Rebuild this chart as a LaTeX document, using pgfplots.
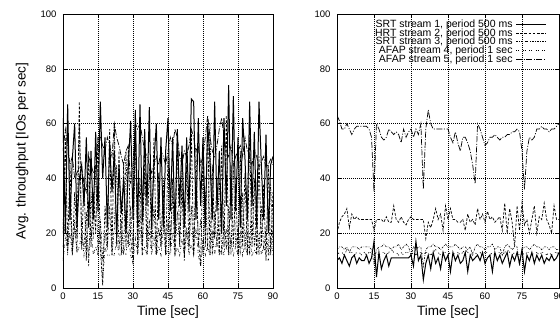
\documentclass[border=0pt]{standalone}
\usepackage{fontspec}
\setmainfont{Liberation Sans}
\usepackage{pgfplots}
\usepackage{pgfplotstable}
\pgfplotsset{compat=1.18}

\pgfplotstableread{
x s1 s2 s3 s4 s5
0 62 20 15 10 50
1 20 55 25 18 58
2 67 15 12 14 52
3 25 45 30 20 45
4 47 12 14 12 48
5 60 35 22 25 40
6 22 18 13 13 42
7 40 68 60 15 44
8 45 14 20 20 44
9 30 40 15 12 38
10 55 10 28 18 35
11 22 50 8 12 48
12 50 15 35 22 45
13 25 35 18 12 42
14 57 20 45 15 44
15 28 55 12 12 55
16 68 15 25 20 55
17 40 1 10 2 52
18 55 30 20 15 50
19 22 15 14 12 55
20 53 58 30 12 52
21 35 12 12 12 48
22 50 60 22 12 60
23 18 15 45 18 55
24 45 50 14 12 52
25 27 12 25 12 48
26 40 45 12 15 45
27 20 15 50 12 50
28 45 52 15 20 52
29 61 18 30 12 38
30 25 10 14 9 45
31 65 60 55 18 60
32 22 15 12 12 58
33 67 40 28 22 60
34 24 12 16 12 55
35 58 50 42 15 50
36 30 15 12 12 48
37 66 45 25 20 45
38 22 18 14 12 42
39 46 55 30 18 45
40 60 12 12 12 48
41 25 42 22 15 45
42 55 15 15 12 50
43 22 35 40 22 48
44 50 12 12 12 45
45 62 48 25 14 50
46 28 15 14 12 55
47 55 40 35 20 52
48 20 12 12 12 58
49 58 55 28 15 55
50 30 15 16 12 48
51 52 38 45 18 45
52 22 10 12 12 50
53 55 45 22 20 48
54 28 15 14 12 52
55 69 58 30 16 58
56 68 12 12 12 55
57 25 40 50 22 50
58 62 18 15 12 52
59 30 8 25 8 45
60 55 50 12 18 48
61 22 15 35 12 55
62 60 62 14 15 63
63 47 12 60 12 55
64 25 45 12 20 50
65 68 18 28 12 48
66 28 40 15 18 52
67 50 12 40 12 58
68 20 52 12 15 62
69 62 15 25 12 55
70 30 63 14 22 50
71 74 12 30 12 48
72 25 45 12 18 52
73 70 15 45 12 45
74 28 38 15 15 48
75 55 12 22 12 50
76 22 50 12 20 52
77 62 15 35 12 48
78 47 42 14 16 55
79 25 12 28 12 50
80 68 55 12 18 48
81 30 15 40 12 45
82 57 40 15 14 50
83 22 12 25 12 48
84 68 48 12 20 44
85 45 15 30 12 46
86 25 38 14 15 48
87 56 10 22 12 44
88 20 45 12 10 45
89 45 12 38 18 47
90 48 35 15 12 45
}\lefttable

\pgfplotstableread{
x s1 s2 s3 s4 s5
0 10 20 14 12 63
1 11 24 15 13 61
2 9 26 15 13 58
3 12 27 14 12 58
4 10 29 15 14 60
5 8 22 13 13 58
6 11 27 15 13 56
7 12 25 15 12 58
8 9 26 15 13 59
9 11 25 14 13 59
10 10 25 15 12 59
11 10 25 15 13 59
12 12 25 15 12 59
13 9 25 15 13 58
14 11 25 14 13 55
15 17 21 9 12 35
16 4 25 14 13 60
17 13 25 15 12 58
18 7 25 15 13 55
19 10 24 16 13 54
20 12 26 15 12 55
21 8 24 15 13 58
22 11 24 14 14 57
23 11 30 15 13 56
24 11 25 15 13 57
25 11 24 16 12 56
26 11 26 14 13 53
27 11 24 15 12 58
28 11 23 16 13 55
29 11 25 15 13 57
30 12 26 12 12 58
31 8 25 15 13 55
32 17 25 14 12 58
33 10 25 15 13 56
34 12 25 15 13 60
35 3 25 8 12 36
36 9 18 14 13 58
37 12 24 15 13 65
38 7 22 15 12 60
39 13 25 16 13 58
40 9 29 15 14 58
41 11 25 15 13 58
42 7 27 14 12 58
43 13 21 15 13 58
44 10 30 16 13 58
45 12 25 15 12 58
46 6 29 15 13 55
47 13 25 15 12 53
48 10 25 16 13 57
49 12 24 15 13 53
50 9 24 14 12 50
51 10 25 15 13 55
52 13 21 15 14 55
53 6 27 14 13 53
54 12 24 15 12 50
55 10 25 12 13 45
56 11 23 15 13 38
57 12 29 16 12 60
58 10 25 15 13 58
59 13 27 15 12 55
60 9 24 14 13 52
61 11 28 15 13 53
62 12 25 15 12 55
63 6 26 16 13 55
64 13 24 14 12 56
65 10 25 15 13 55
66 12 26 15 13 54
67 9 21 12 12 55
68 11 31 15 13 55
69 13 20 16 14 56
70 8 29 15 13 56
71 12 24 14 12 57
72 10 15 15 13 57
73 13 30 15 13 58
74 9 21 8 12 57
75 14 31 14 13 50
76 6 23 15 12 36
77 12 25 15 13 50
78 10 20 14 13 55
79 13 25 15 12 54
80 9 30 16 13 55
81 12 20 15 13 58
82 10 26 15 12 58
83 12 25 14 13 59
84 9 31 15 13 58
85 11 25 15 12 58
86 10 23 14 13 57
87 12 20 15 12 58
88 10 30 15 13 58
89 11 25 14 13 59
90 13 25 14 12 60
}\righttable

\pgfplotsset{
  gpbase/.style={
    scale only axis,
    anchor=south west,
    height=274pt,
    xmin=0, xmax=90, ymin=0, ymax=100,
    xtick={0,15,...,90}, ytick={0,20,...,100},
    tick align=inside,
    major tick length=4pt,
    tick style={black, line width=0.6pt},
    axis line style={black, line width=0.9pt},
    grid=major,
    major grid style={black, line width=0.5pt, dash pattern=on 0.7pt off 1.3pt},
    /pgf/number format/assume math mode=true,
    ticklabel style={font=\fontsize{9.5}{11}\selectfont},
    xticklabel style={yshift=-1.5pt},
    yticklabel style={xshift=-3pt},
    xlabel={Time [sec]},
    label style={font=\fontsize{13.5}{15}\selectfont},
    x label style={at={(axis description cs:0.5,0)}, anchor=north, yshift=-14pt},
    legend image code/.code={\draw[#1] (0pt,0pt) -- (30pt,0pt);},
  },
  st1/.style={black, line width=1pt, solid},
  st2/.style={black, line width=0.7pt, dash pattern=on 2.6pt off 1.6pt},
  st3/.style={black, line width=0.6pt, dash pattern=on 2pt off 1.3pt on 0.6pt off 1.3pt},
  st4/.style={black, line width=0.7pt, dash pattern=on 1pt off 1pt on 1pt off 3.5pt},
  st5/.style={black, line width=0.7pt, dash pattern=on 6pt off 1.6pt on 1pt off 1.6pt},
}

\begin{document}
\begin{tikzpicture}
\useasboundingbox (0,0) rectangle (560pt,325pt);
\begin{axis}[gpbase, at={(63pt,37pt)}, width=210pt,
  ylabel={Avg. throughput [IOs per sec]},
  y label style={at={(axis description cs:-0.195,0.5)}, anchor=center, rotate=0}]
\addplot[st1] table[x=x,y=s1] {\lefttable};
\addplot[st2] table[x=x,y=s2] {\lefttable};
\addplot[st3] table[x=x,y=s3] {\lefttable};
\addplot[st4] table[x=x,y=s4] {\lefttable};
\addplot[st5] table[x=x,y=s5] {\lefttable};
\end{axis}
\begin{axis}[gpbase, at={(337pt,37pt)}, width=222pt,
  legend plot pos=right,
  legend cell align=right,
  legend style={at={(0.945,0.98)}, anchor=north east, draw=none, fill=none,
    inner sep=0pt, row sep=0pt, column sep=2pt,
    font=\fontsize{10.5}{12}\selectfont,
    nodes={inner xsep=1pt, inner ysep=0pt, text height=7.6pt, text depth=1.2pt}}]
\addplot[st1] table[x=x,y=s1] {\righttable};
\addlegendentry{SRT stream 1, period 500 ms}
\addplot[st2] table[x=x,y=s2] {\righttable};
\addlegendentry{HRT stream 2, period 500 ms}
\addplot[st3] table[x=x,y=s3] {\righttable};
\addlegendentry{SRT stream 3, period 500 ms}
\addplot[st4] table[x=x,y=s4] {\righttable};
\addlegendentry{AFAP stream 4, period 1 sec}
\addplot[st5] table[x=x,y=s5] {\righttable};
\addlegendentry{AFAP stream 5, period 1 sec}
\end{axis}
\end{tikzpicture}
\end{document}
